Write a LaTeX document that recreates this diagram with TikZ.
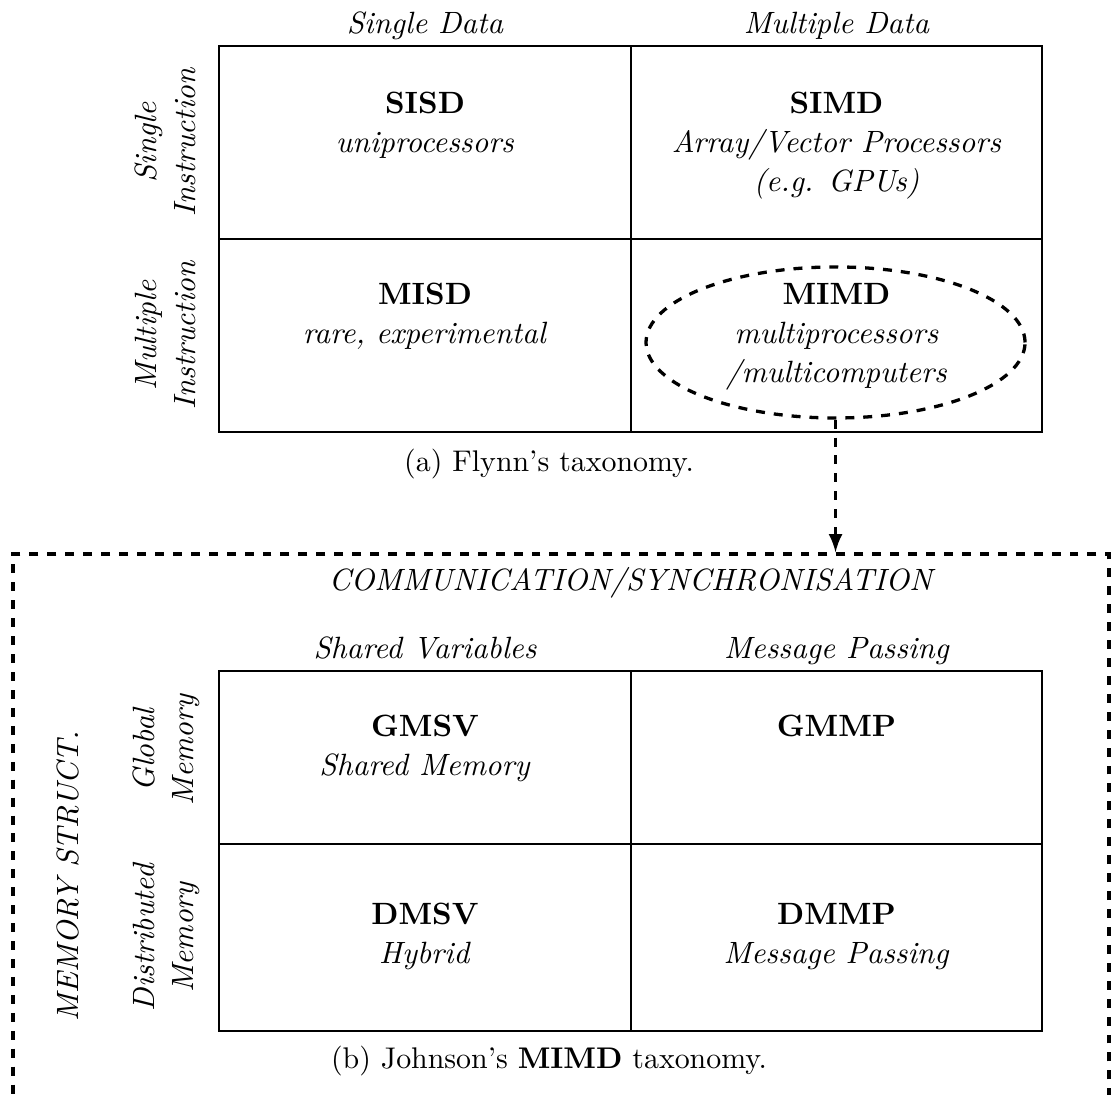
\documentclass[tikz,border=0pt]{standalone}
\usepackage{amssymb,amsmath}
\usetikzlibrary{shapes.geometric,positioning}
\newcommand{\figfont}{\fontsize{10.3pt}{12pt}\selectfont}

\begin{document}
\begin{tikzpicture}[font=\figfont,
 cell/.style={anchor=north,align=center,inner sep=0pt},
 colhead/.style={anchor=base,font=\figfont\itshape},
 rowhead/.style={rotate=90,anchor=south,align=center,inner sep=0pt,font=\figfont\itshape},
 caption/.style={anchor=base,font=\normalsize},
 grid/.style={draw,line width=0.5pt},
 ring/.style={ellipse,draw,dashed,line width=1.1pt,inner sep=0pt,minimum width=4.457cm,minimum height=1.776cm},
 dashbox/.style={draw,dashed,line width=1.1pt,inner sep=0pt,minimum width=12.888cm,minimum height=6.786cm}]
 \useasboundingbox (0,0) rectangle (13.076,-12.876);

 % (a) Flynn's taxonomy
 \draw[grid] (2.575,-0.541) rectangle (12.253,-5.080);
 \draw[grid] (7.420,-0.541) -- (7.420,-5.080);
 \draw[grid] (2.575,-2.810) -- (12.253,-2.810);

 \node[colhead] (h_sd) at (4.998,-0.388) {Single Data};
 \node[colhead] (h_md) at (9.836,-0.388) {Multiple Data};
 \node[rowhead] (h_si) at (2.305,-1.676) {Single\\[1pt]Instruction};
 \node[rowhead] (h_mi) at (2.305,-3.945) {Multiple\\[1pt]Instruction};

 \node[cell] (c_sisd) at (4.998,-1.080) {\textbf{SISD}\\[1pt]\textit{uniprocessors}};
 \node[cell] (c_simd) at (9.836,-1.080) {\textbf{SIMD}\\[1pt]\textit{Array/Vector Processors}\\[1pt]\textit{(e.g. GPUs)}};
 \node[cell] (c_misd) at (4.998,-3.326) {\textbf{MISD}\\[1pt]\textit{rare, experimental}};
 \node[cell] (c_mimd) at (9.836,-3.326) {\textbf{MIMD}\\[1pt]\textit{multiprocessors}\\[1pt]\textit{/multicomputers}};
 \node[ring] (mimd_ring) at (9.825,-4.027) {};

 \node[caption] (cap_a) at (6.456,-5.550) {(a) Flynn's taxonomy.};

 % (b) Johnson's MIMD taxonomy
 \node[dashbox] (mimd_box) at (6.597,-9.907) {};
 \draw[dashed,line width=1.1pt,-latex] (mimd_ring.south) -- (mimd_ring.south |- mimd_box.north);

 \node[colhead] (h_comm) at (7.414,-6.938) {COMMUNICATION/SYNCHRONISATION};
 \node[rotate=90,font=\figfont\itshape] (h_mem) at (0.80,-10.30) {MEMORY STRUCT.};

 \draw[grid] (2.575,-7.890) rectangle (12.253,-12.124);
 \draw[grid] (7.420,-7.890) -- (7.420,-12.124);
 \draw[grid] (2.575,-9.925) -- (12.253,-9.925);

 \node[colhead] (h_sv) at (4.998,-7.749) {Shared Variables};
 \node[colhead] (h_mp) at (9.836,-7.749) {Message Passing};
 \node[rowhead] (h_gm) at (2.352,-8.819) {Global\\[1pt]Memory};
 \node[rowhead] (h_dm) at (2.352,-11.024) {Distributed\\[1pt]Memory};

 \node[cell] (c_gmsv) at (4.998,-8.405) {\textbf{GMSV}\\[1pt]\textit{Shared Memory}};
 \node[cell] (c_gmmp) at (9.836,-8.405) {\textbf{GMMP}};
 \node[cell] (c_dmsv) at (4.998,-10.616) {\textbf{DMSV}\\[1pt]\textit{Hybrid}};
 \node[cell] (c_dmmp) at (9.836,-10.616) {\textbf{DMMP}\\[1pt]\textit{Message Passing}};

 \node[caption] (cap_b) at (6.456,-12.559) {(b) Johnson's \textbf{MIMD} taxonomy.};
\end{tikzpicture}
\end{document}
